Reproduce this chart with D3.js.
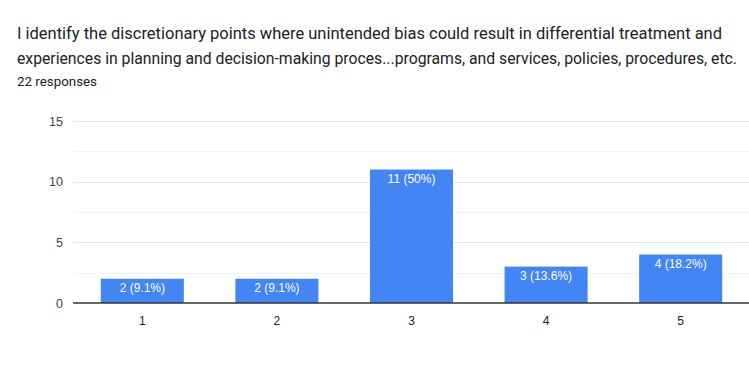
<!DOCTYPE html>
<html>
<head>
<meta charset="utf-8">
<script src="https://cdn.jsdelivr.net/npm/d3@7"></script>
<style>
  body { margin: 0; background: #fff; }
  svg { display: block; }
</style>
</head>
<body>
<script>
// chart data
var titleLines = [
  "I identify the discretionary points where unintended bias could result in differential treatment and",
  "experiences in planning and decision-making proces...programs, and services, policies, procedures, etc."
];
var titleWidths = [705, 720];
var subtitle = "22 responses";
var categories = ["1", "2", "3", "4", "5"];
var counts = [2, 2, 11, 3, 4];
var percentLabels = ["9.1%", "9.1%", "50%", "13.6%", "18.2%"];
var yTicks = [0, 5, 10, 15];
var yMinorTicks = [2.5, 7.5, 12.5];

var w = 749, h = 381;
var margin = {top: 121, right: 0, bottom: 78, left: 73};

var svg = d3.select("body").append("svg")
    .attr("width", w)
    .attr("height", h);

// title
svg.selectAll(".title")
   .data(titleLines)
   .enter().append("text")
    .attr("class", "title")
    .attr("x", 17)
    .attr("y", function(d, i) { return 39 + i * 25; })
    .attr("textLength", function(d, i) { return titleWidths[i]; })
    .attr("lengthAdjust", "spacingAndGlyphs")
    .style("font-family", "Roboto, sans-serif")
    .style("font-size", "16px")
    .style("fill", "#202124")
    .text(function(d) { return d; });

svg.append("text")
   .attr("x", 17)
   .attr("y", 86)
   .attr("textLength", 80)
   .attr("lengthAdjust", "spacingAndGlyphs")
   .style("font-family", "Roboto, sans-serif")
   .style("font-size", "13px")
   .style("fill", "#202124")
   .text(subtitle);

var xScale = d3.scaleBand()
    .domain(categories)
    .range([74, w])
    .paddingInner(0.383)
    .paddingOuter(0.199);

var yScale = d3.scaleLinear()
    .domain([0, 15])
    .range([h - margin.bottom, margin.top]);

// minor gridlines
svg.selectAll(".minor")
   .data(yMinorTicks)
   .enter().append("line")
    .attr("x1", margin.left)
    .attr("x2", w - margin.right)
    .attr("y1", function(d) { return Math.round(yScale(d)) + 0.5; })
    .attr("y2", function(d) { return Math.round(yScale(d)) + 0.5; })
    .style("stroke", "#f3f3f3")
    .style("stroke-width", 1);

// major gridlines
svg.selectAll(".major")
   .data(yTicks.slice(1))
   .enter().append("line")
    .attr("x1", margin.left)
    .attr("x2", w - margin.right)
    .attr("y1", function(d) { return Math.round(yScale(d)) + 0.5; })
    .attr("y2", function(d) { return Math.round(yScale(d)) + 0.5; })
    .style("stroke", "#e6e6e6")
    .style("stroke-width", 1);

// y-axis labels
svg.selectAll(".ylab")
   .data(yTicks)
   .enter().append("text")
    .attr("x", 63)
    .attr("y", function(d) { return yScale(d) + 4.5; })
    .style("text-anchor", "end")
    .style("font-family", "Arial, 'Liberation Sans', sans-serif")
    .style("font-size", "12.5px")
    .style("fill", "#444")
    .text(function(d) { return d; });

// bars
svg.selectAll(".bar")
   .data(counts)
   .enter().append("rect")
    .attr("class", "bar")
    .attr("x", function(d, i) { return xScale(categories[i]); })
    .attr("y", function(d) { return yScale(d); })
    .attr("width", xScale.bandwidth())
    .attr("height", function(d) { return yScale(0) - yScale(d); })
    .style("fill", "#4285f4");

// bar labels
svg.selectAll(".barlab")
   .data(counts)
   .enter().append("text")
    .attr("x", function(d, i) { return xScale(categories[i]) + xScale.bandwidth() / 2; })
    .attr("y", function(d) { return yScale(d) + 13.5; })
    .style("text-anchor", "middle")
    .style("font-family", "Arial, 'Liberation Sans', sans-serif")
    .style("font-size", "12px")
    .style("fill", "#ffffff")
    .text(function(d, i) { return d + " (" + percentLabels[i] + ")"; });

// baseline
svg.append("line")
   .attr("x1", margin.left)
   .attr("x2", w - margin.right)
   .attr("y1", yScale(0))
   .attr("y2", yScale(0))
   .style("stroke", "#333")
   .style("stroke-width", 1.5);

// x-axis labels
svg.selectAll(".xlab")
   .data(categories)
   .enter().append("text")
    .attr("x", function(d) { return xScale(d) + xScale.bandwidth() / 2; })
    .attr("y", yScale(0) + 22)
    .style("text-anchor", "middle")
    .style("font-family", "Arial, 'Liberation Sans', sans-serif")
    .style("font-size", "12px")
    .style("fill", "#222")
    .text(function(d) { return d; });
</script>
</body>
</html>
